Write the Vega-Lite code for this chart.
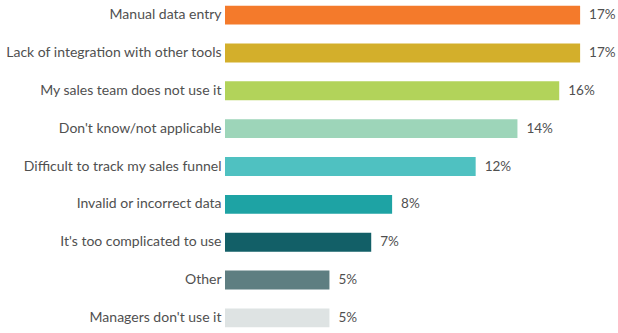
{
  "$schema": "https://vega.github.io/schema/vega-lite/v6.json",
  "autosize": "none",
  "width": 376,
  "height": 333,
  "padding": {"left": 225, "right": 17, "top": 0, "bottom": 0},
  "background": "white",
  "config": {
    "view": {"stroke": null},
    "font": "Lato"
  },
  "data": {
    "values": [
      {"reason": "Manual data entry", "share": 0.17, "color": "#F47A2B"},
      {"reason": "Lack of integration with other tools", "share": 0.17, "color": "#D3AF2B"},
      {"reason": "My sales team does not use it", "share": 0.16, "color": "#B2D35A"},
      {"reason": "Don't know/not applicable", "share": 0.14, "color": "#9DD5B9"},
      {"reason": "Difficult to track my sales funnel", "share": 0.12, "color": "#4FC1C1"},
      {"reason": "Invalid or incorrect data", "share": 0.08, "color": "#1EA3A4"},
      {"reason": "It's too complicated to use", "share": 0.07, "color": "#125F67"},
      {"reason": "Other", "share": 0.05, "color": "#5E7E81"},
      {"reason": "Managers don't use it", "share": 0.05, "color": "#DEE3E3"}
    ]
  },
  "encoding": {
    "y": {
      "field": "reason",
      "type": "nominal",
      "sort": null,
      "title": null,
      "scale": {"paddingInner": 0.5, "paddingOuter": 0.15},
      "axis": {
        "domain": false,
        "ticks": false,
        "labelPadding": 4,
        "labelFontSize": 14,
        "labelColor": "#505050",
        "labelLimit": 260
      }
    },
    "x": {
      "field": "share",
      "type": "quantitative",
      "scale": {"domain": [0, 0.18], "nice": false},
      "axis": null
    }
  },
  "layer": [
    {
      "mark": {"type": "bar"},
      "encoding": {
        "color": {"field": "color", "type": "nominal", "scale": null}
      }
    },
    {
      "mark": {"type": "text", "align": "left", "dx": 9, "fontSize": 13.5, "color": "#505050"},
      "encoding": {
        "text": {"field": "share", "type": "quantitative", "format": ".0%"}
      }
    }
  ]
}
